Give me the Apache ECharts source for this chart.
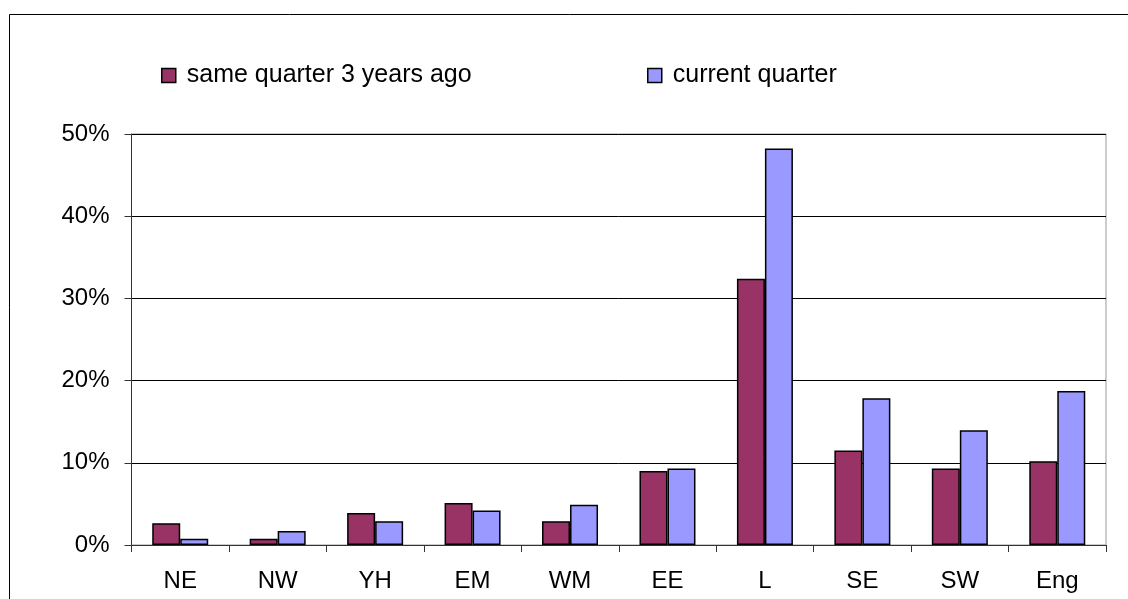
<!DOCTYPE html>
<html lang="en">
<head>
    <meta charset="UTF-8">
    <title>Regional share - same quarter 3 years ago vs current quarter</title>
    <script src="https://cdn.jsdelivr.net/npm/echarts@6/dist/echarts.min.js"></script>
    <style>
        body { margin: 0; padding: 0; background: #fff; }
        #chart { width: 1128px; height: 599px; }
    </style>
</head>
<body>
    <div id="chart"></div>
    <script>
        // data
        const regions = ['NE', 'NW', 'YH', 'EM', 'WM', 'EE', 'L', 'SE', 'SW', 'Eng'];
        const threeYearsAgo = [2.65, 0.75, 3.9, 5.1, 2.9, 9.0, 32.4, 11.5, 9.3, 10.2];
        const currentQuarter = [0.75, 1.7, 2.9, 4.2, 4.9, 9.3, 48.25, 17.85, 13.95, 18.75];
        const seriesNames = ['same quarter 3 years ago', 'current quarter'];

        const chart = echarts.init(document.getElementById('chart'));
        const font = 'Arial, "Liberation Sans", sans-serif';

        const legendText = { fontSize: 25, color: '#000', fontFamily: font, padding: [0, 0, 0, 6] };

        const option = {
            backgroundColor: '#fff',
            animation: false,
            textStyle: { fontFamily: font },
            graphic: [{
                type: 'rect',
                shape: { x: 9.5, y: 14.5, width: 1200, height: 700 },
                style: { fill: 'none', stroke: '#000', lineWidth: 1 },
                silent: true
            }],
            legend: [{
                data: [seriesNames[0]],
                left: 156, top: 58,
                icon: 'rect', itemWidth: 14, itemHeight: 14,
                itemStyle: { borderColor: '#000', borderWidth: 1.5 },
                textStyle: legendText
            }, {
                data: [seriesNames[1]],
                left: 642, top: 58,
                icon: 'rect', itemWidth: 14, itemHeight: 14,
                itemStyle: { borderColor: '#000', borderWidth: 1.5 },
                textStyle: legendText
            }],
            grid: {
                left: 131.5, right: 22, top: 134, bottom: 54,
                show: true, borderColor: '#999', borderWidth: 1
            },
            xAxis: {
                type: 'category',
                data: regions,
                axisLine: { lineStyle: { color: '#333', width: 1 } },
                axisTick: { show: true, length: 7, lineStyle: { color: '#333' } },
                axisLabel: { fontSize: 24, color: '#000', margin: 24, fontFamily: font }
            },
            yAxis: {
                type: 'value',
                min: 0, max: 50, interval: 10,
                axisLine: { show: true, lineStyle: { color: '#333', width: 1 } },
                axisTick: { show: true, length: 7, inside: false, lineStyle: { color: '#333' } },
                axisLabel: { fontSize: 24, color: '#000', margin: 22, formatter: '{value}%', fontFamily: font },
                splitLine: { show: true, lineStyle: { color: '#000', width: 1 } }
            },
            series: [{
                name: seriesNames[0],
                type: 'bar',
                data: threeYearsAgo,
                barWidth: 28,
                barGap: '0%',
                itemStyle: { color: '#993366', borderColor: '#000', borderWidth: 1.5 }
            }, {
                name: seriesNames[1],
                type: 'bar',
                data: currentQuarter,
                barWidth: 28,
                barGap: '0%',
                itemStyle: { color: '#9999FF', borderColor: '#000', borderWidth: 1.5 }
            }]
        };

        chart.setOption(option);
    </script>
</body>
</html>
